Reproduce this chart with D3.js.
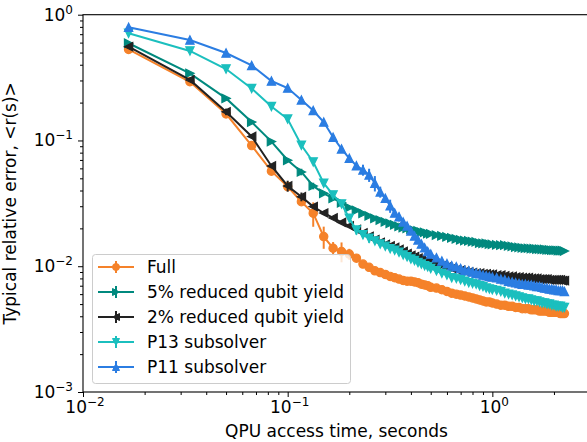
<!DOCTYPE html>
<html>
<head>
<meta charset="utf-8">
<script src="https://cdn.jsdelivr.net/npm/d3@7"></script>
<style>
  body { margin: 0; background: #fff; }
  svg { display: block; font-family: "DejaVu Sans", sans-serif; }
</style>
</head>
<body>
<div id="chart"></div>
<script>
// QPU access time, seconds
const times = [0.0167, 0.0333, 0.05, 0.0667, 0.0833, 0.1, 0.1167, 0.1333, 0.15, 0.1667,
  0.1833, 0.2, 0.2167, 0.2333, 0.25, 0.2667, 0.2833, 0.3, 0.3167, 0.3333,
  0.35, 0.3667, 0.3833, 0.4, 0.4167, 0.4333, 0.45, 0.4667, 0.4833, 0.5,
  0.5333, 0.5667, 0.6, 0.6333, 0.6667, 0.7, 0.7333, 0.7667, 0.8, 0.8333,
  0.8667, 0.9, 0.9333, 0.9667, 1.0,
  1.05, 1.1, 1.15, 1.2, 1.25, 1.3, 1.35, 1.4, 1.45, 1.5, 1.55, 1.6, 1.65, 1.7, 1.75,
  1.8, 1.85, 1.9, 1.95, 2.0, 2.05, 2.1, 2.15, 2.2, 2.25];

const full = [0.53, 0.293, 0.163, 0.091, 0.057, 0.043, 0.0326, 0.0264, 0.0172, 0.0139,
  0.0131, 0.0125, 0.0116, 0.0104, 0.0098, 0.0092, 0.0089, 0.0086, 0.0083, 0.0081,
  0.0079, 0.0077, 0.0076, 0.0076, 0.0075, 0.0074, 0.0072, 0.0071, 0.0070, 0.0068,
  0.0067, 0.0065, 0.0063, 0.0061, 0.0060, 0.0059, 0.0058, 0.0057, 0.0056, 0.0055,
  0.0054, 0.0053, 0.0052, 0.0052, 0.0051,
  0.0050, 0.0049, 0.0049, 0.0048, 0.0048, 0.0047, 0.0047, 0.0046, 0.0046, 0.0046,
  0.0045, 0.0045, 0.0045, 0.0044, 0.0044, 0.0044, 0.0044, 0.0043, 0.0043, 0.0043,
  0.0043, 0.0043, 0.0042, 0.0042, 0.0042];

const yield5 = [0.593, 0.342, 0.216, 0.140, 0.098, 0.0696, 0.0562, 0.0435, 0.038, 0.0346,
  0.0319, 0.0293, 0.0278, 0.0263, 0.0251, 0.0240, 0.0233, 0.0225, 0.0219, 0.0213,
  0.0207, 0.0203, 0.0200, 0.0196, 0.0193, 0.0191, 0.0187, 0.0186, 0.0182, 0.0181,
  0.0177, 0.0174, 0.0171, 0.0168, 0.0165, 0.0162, 0.0160, 0.0159, 0.0157, 0.0156,
  0.0153, 0.0152, 0.0152, 0.0150, 0.0149,
  0.0148, 0.0147, 0.0147, 0.0145, 0.0144, 0.0142, 0.0141, 0.0140, 0.0139, 0.0139,
  0.0138, 0.0138, 0.0137, 0.0137, 0.0136, 0.0136, 0.0135, 0.0135, 0.0134, 0.0134,
  0.0134, 0.0133, 0.0133, 0.0133, 0.0132];

const yield2 = [0.557, 0.303, 0.169, 0.1076, 0.0627, 0.0435, 0.0357, 0.0298, 0.0265, 0.0242,
  0.0223, 0.0209, 0.0196, 0.0184, 0.0173, 0.0163, 0.0155, 0.0149, 0.0145, 0.0141,
  0.0136, 0.0131, 0.0126, 0.0122, 0.0119, 0.0116, 0.0113, 0.0111, 0.0109, 0.0107,
  0.0104, 0.0101, 0.0099, 0.0096, 0.0094, 0.0093, 0.0091, 0.0090, 0.0089, 0.0088,
  0.0088, 0.0087, 0.0087, 0.0086, 0.0086,
  0.0085, 0.0085, 0.0084, 0.0083, 0.0083, 0.0082, 0.0082, 0.0081, 0.0081, 0.0081,
  0.0080, 0.0080, 0.0080, 0.0079, 0.0079, 0.0079, 0.0079, 0.0078, 0.0078, 0.0078,
  0.0078, 0.0078, 0.0078, 0.0077, 0.0077];

const p13 = [0.711, 0.515, 0.370, 0.259, 0.186, 0.148, 0.0916, 0.0675, 0.0457, 0.0369,
  0.0313, 0.0241, 0.0194, 0.0178, 0.0167, 0.0159, 0.0150, 0.0144, 0.0138, 0.0134,
  0.0129, 0.0123, 0.0119, 0.0114, 0.0111, 0.0107, 0.0104, 0.0101, 0.0099, 0.0096,
  0.0092, 0.0088, 0.0085, 0.0081, 0.0080, 0.0078, 0.0076, 0.0074, 0.0073, 0.0072,
  0.0070, 0.0069, 0.0067, 0.0066, 0.0065,
  0.0064, 0.0063, 0.0061, 0.0060, 0.0059, 0.0058, 0.0057, 0.0056, 0.0055, 0.0055,
  0.0054, 0.0053, 0.0053, 0.0052, 0.0051, 0.0051, 0.0050, 0.0050, 0.0049, 0.0049,
  0.0048, 0.0048, 0.0048, 0.0047, 0.0047];

const p11 = [0.794, 0.629, 0.496, 0.395, 0.297, 0.261, 0.210, 0.173, 0.140, 0.106,
  0.0856, 0.0721, 0.0629, 0.0583, 0.0532, 0.0457, 0.039, 0.0347, 0.0302, 0.0265,
  0.0247, 0.0225, 0.0209, 0.0191, 0.0174, 0.0162, 0.0150, 0.0140, 0.0131, 0.0125,
  0.0117, 0.0110, 0.0105, 0.0101, 0.0099, 0.0096, 0.0093, 0.0092, 0.0090, 0.0088,
  0.0087, 0.0085, 0.0084, 0.0083, 0.0082,
  0.0081, 0.0079, 0.0078, 0.0076, 0.0075, 0.0074, 0.0073, 0.0072, 0.0072, 0.0071,
  0.0071, 0.0070, 0.0069, 0.0069, 0.0068, 0.0067, 0.0067, 0.0066, 0.0066, 0.0065,
  0.0065, 0.0064, 0.0064, 0.0064, 0.0063];

// error bars: [time, relative half-width]
const errFull = [[0.0333, 0.06], [0.05, 0.08], [0.1, 0.08], [0.1333, 0.22], [0.15, 0.2], [0.1667, 0.12], [0.1833, 0.18], [0.2, 0.1]];
const err5 = [[0.1167, 0.06], [0.1333, 0.06]];
const err2 = [[0.05, 0.06], [0.1, 0.1], [0.1167, 0.08]];
const err13 = [[0.2167, 0.08], [0.25, 0.08]];
const err11 = [[0.2333, 0.1], [0.25, 0.12], [0.2667, 0.14], [0.2833, 0.1], [0.3167, 0.12], [0.35, 0.08]];

const series = [
  { name: "Full", values: full, err: errFull, color: "#f5822a", marker: "o" },
  { name: "5% reduced qubit yield", values: yield5, err: err5, color: "#00897e", marker: ">" },
  { name: "2% reduced qubit yield", values: yield2, err: err2, color: "#222222", marker: "<" },
  { name: "P13 subsolver", values: p13, err: err13, color: "#1bbfbe", marker: "v" },
  { name: "P11 subsolver", values: p11, err: err11, color: "#2b7de2", marker: "^" }
];

const xTicks = [0.01, 0.1, 1];
const yTicks = [1, 0.1, 0.01, 0.001];

const w = 587, h = 442;
const mLeft = 83, mTop = 14.7, mRight = 590, mBottom = 392;
const fs = 17;

const svg = d3.select("#chart").append("svg")
  .attr("width", w)
  .attr("height", h);

const x = d3.scaleLog().domain([0.01, 3]).range([mLeft, mRight]);
const y = d3.scaleLog().domain([0.001, 1]).range([mBottom, mTop]);

const markerPath = (m, s) => {
  const r = s / 2;
  if (m === "o") return d3.symbol(d3.symbolCircle, Math.PI * r * r)();
  if (m === "^") return `M0,${-r}L${-r},${r}L${r},${r}Z`;
  if (m === "v") return `M0,${r}L${-r},${-r}L${r},${-r}Z`;
  if (m === ">") return `M${r},0L${-r},${-r}L${-r},${r}Z`;
  return `M${-r},0L${r},${-r}L${r},${r}Z`;
};

const plot = svg.append("g");
const line = d3.line().x(d => x(d[0])).y(d => y(d[1]));

series.forEach(s => {
  const pts = times.map((t, i) => [t, s.values[i]]);
  const g = plot.append("g");
  g.append("path")
    .attr("d", line(pts))
    .attr("fill", "none")
    .attr("stroke", s.color)
    .attr("stroke-width", 2);
  g.selectAll("line.err")
    .data(s.err)
    .enter().append("line")
    .attr("x1", d => x(d[0]))
    .attr("x2", d => x(d[0]))
    .attr("y1", d => y(s.values[times.indexOf(d[0])] * (1 + d[1])))
    .attr("y2", d => y(s.values[times.indexOf(d[0])] * (1 - d[1])))
    .attr("stroke", s.color)
    .attr("stroke-width", 2);
  g.selectAll("path.mk")
    .data(pts)
    .enter().append("path")
    .attr("d", markerPath(s.marker, 8.3))
    .attr("transform", d => `translate(${x(d[0])},${y(d[1])})`)
    .attr("fill", s.color)
    .attr("stroke", s.color)
    .attr("stroke-width", 1.2);
});

// axes
const xAxis = d3.axisBottom(x).tickValues(xTicks).tickSize(5).tickFormat("");
const yAxis = d3.axisLeft(y).tickValues(yTicks).tickSize(5).tickFormat("");
const minorX = [];
[0.01, 0.1, 1].forEach(d => { for (let k = 2; k <= 9; k++) if (d * k <= 3) minorX.push(d * k); });
const minorY = [];
[0.001, 0.01, 0.1].forEach(d => { for (let k = 2; k <= 9; k++) minorY.push(d * k); });

svg.append("g").attr("transform", `translate(0,${mBottom})`).call(xAxis);
svg.append("g").attr("transform", `translate(0,${mBottom})`)
  .call(d3.axisBottom(x).tickValues(minorX).tickSize(3).tickFormat(""));
svg.append("g").attr("transform", `translate(${mLeft},0)`).call(yAxis);
svg.append("g").attr("transform", `translate(${mLeft},0)`)
  .call(d3.axisLeft(y).tickValues(minorY).tickSize(3).tickFormat(""));
svg.selectAll(".domain").remove();
svg.selectAll(".tick line").attr("stroke", "#000").attr("stroke-width", 1);

svg.append("rect")
  .attr("x", mLeft).attr("y", mTop)
  .attr("width", mRight - mLeft).attr("height", mBottom - mTop)
  .attr("fill", "none").attr("stroke", "#000").attr("stroke-width", 1.1);

const sup = (sel, v) => {
  const e = Math.round(Math.log10(v));
  sel.append("tspan").text("10");
  sel.append("tspan").attr("dy", -7).attr("font-size", 12)
    .text(e < 0 ? "\u2212" + (-e) : String(e));
};

xTicks.forEach(t => {
  svg.append("text")
    .attr("x", x(t) + 2).attr("y", 413)
    .attr("text-anchor", "middle")
    .attr("font-size", fs)
    .call(sup, t);
});
yTicks.forEach(t => {
  svg.append("text")
    .attr("x", 73).attr("y", y(t) + 6)
    .attr("text-anchor", "end")
    .attr("font-size", fs)
    .call(sup, t);
});

svg.append("text")
  .attr("x", (mLeft + mRight) / 2).attr("y", 437)
  .attr("text-anchor", "middle")
  .attr("font-size", fs)
  .text("QPU access time, seconds");

svg.append("text")
  .attr("transform", `translate(16,${(mTop + mBottom) / 2}) rotate(-90)`)
  .attr("text-anchor", "middle")
  .attr("font-size", fs)
  .text("Typical relative error, <r(s)>");

// legend
const legend = svg.append("g").attr("transform", "translate(92,254)");
legend.append("rect")
  .attr("x", 0.5).attr("y", 0.5)
  .attr("width", 258).attr("height", 129)
  .attr("rx", 3)
  .attr("fill", "#fff").attr("fill-opacity", 0.8)
  .attr("stroke", "#cccccc").attr("stroke-width", 1);

series.forEach((s, i) => {
  const row = legend.append("g").attr("transform", `translate(0,${13 + i * 25})`);
  row.append("line")
    .attr("x1", 6).attr("x2", 42)
    .attr("stroke", s.color).attr("stroke-width", 2);
  row.append("line")
    .attr("x1", 24).attr("x2", 24).attr("y1", -6).attr("y2", 6)
    .attr("stroke", s.color).attr("stroke-width", 2);
  row.append("path")
    .attr("d", markerPath(s.marker, 7))
    .attr("transform", "translate(24,0)")
    .attr("fill", s.color).attr("stroke", s.color).attr("stroke-width", 1);
  row.append("text")
    .attr("x", 55).attr("y", 6)
    .attr("font-size", fs)
    .text(s.name);
});
</script>
</body>
</html>
